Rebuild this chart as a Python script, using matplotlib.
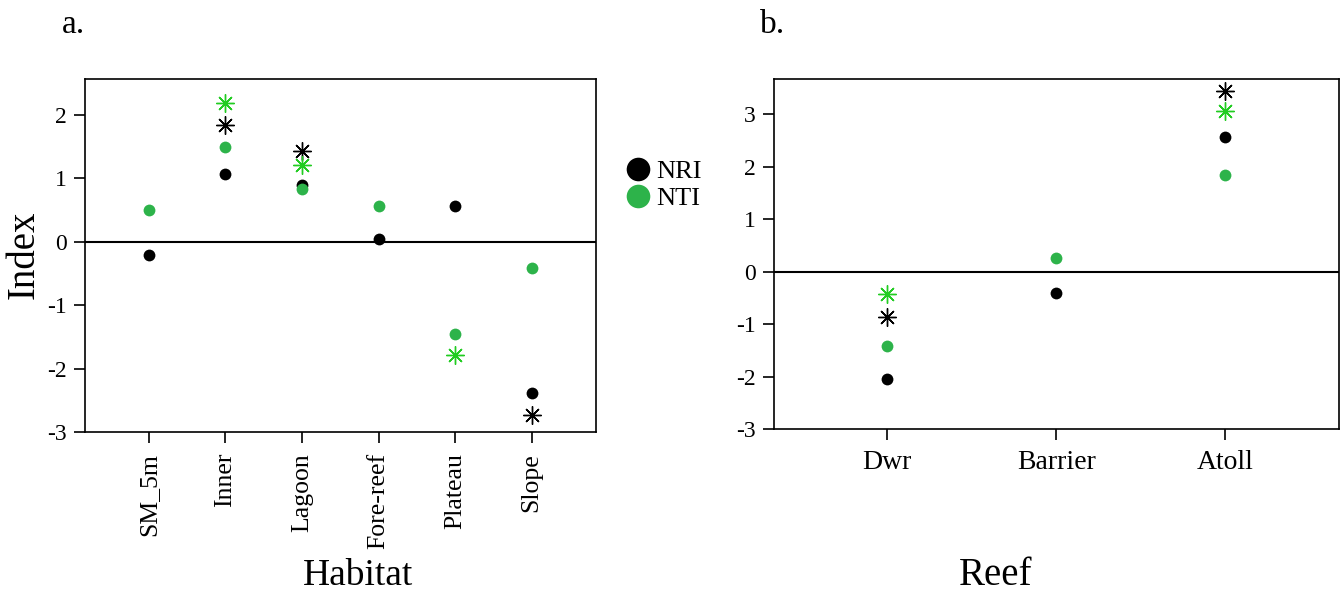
import numpy as np
import matplotlib
matplotlib.use("Agg")
from matplotlib import pyplot as plt
from matplotlib.lines import Line2D

plt.rcParams['font.family'] = ['Liberation Serif', 'DejaVu Serif']
plt.rcParams['axes.unicode_minus'] = False

# panel a: habitat
habitat = ["SM_5m", "Inner", "Lagoon", "Fore-reef", "Plateau", "Slope"]
nri_hab = [-0.20, 1.07, 0.90, 0.04, 0.56, -2.39]
nti_hab = [0.51, 1.49, 0.83, 0.56, -1.46, -0.41]
nri_hab_star = [np.nan, 1.84, 1.43, np.nan, np.nan, -2.73]
nti_hab_star = [np.nan, 2.19, 1.21, np.nan, -1.79, np.nan]

# panel b: reef
reef = ["Dwr", "Barrier", "Atoll"]
nri_reef = [-2.05, -0.41, 2.56]
nti_reef = [-1.41, 0.25, 1.84]
nri_reef_star = [-0.87, np.nan, 3.45]
nti_reef_star = [-0.43, np.nan, 3.06]

black = "black"
green_dot = "#2db34a"
green_star = "#22cc22"
star = (8, 2, 0)

fig = plt.figure(figsize=(13.4, 5.93), dpi=100)
ax1 = fig.add_axes([0.0631, 0.2715, 0.3817, 0.5953])
ax2 = fig.add_axes([0.5776, 0.2766, 0.4214, 0.5902])


def draw(ax, cats, nri, nti, nri_s, nti_s, xsize):
    x = np.arange(len(cats))
    ax.axhline(0, color="black", lw=1.5, zorder=1)
    ax.plot(x, nri, "o", color=black, ms=8.5, mec="none", zorder=3)
    ax.plot(x, nti, "o", color=green_dot, ms=8.5, mec="none", zorder=4)
    ax.plot(x, nri_s, ls="none", marker=star, color=black, ms=13, mew=1.0, zorder=3)
    ax.plot(x, nti_s, ls="none", marker=star, color=green_star, ms=13, mew=1.0, zorder=4)
    ax.set_xticks(x)
    ax.set_xticklabels(cats)
    for s in ax.spines.values():
        s.set_linewidth(1.2)
    ax.tick_params(direction="out", length=8, width=1.2, pad=5)
    ax.tick_params(axis="y", labelsize=17)
    ax.tick_params(axis="x", labelsize=xsize, pad=7)


draw(ax1, habitat, nri_hab, nti_hab, nri_hab_star, nti_hab_star, 18.5)
ax1.set_xlim(-0.84, 5.84)
ax1.set_ylim(-3, 2.57)
ax1.set_yticks([-3, -2, -1, 0, 1, 2])
plt.setp(ax1.get_xticklabels(), rotation=90)

draw(ax2, reef, nri_reef, nti_reef, nri_reef_star, nti_reef_star, 20)
ax2.set_xlim(-0.67, 2.67)
ax2.set_ylim(-3, 3.67)
ax2.set_yticks([-3, -2, -1, 0, 1, 2, 3])

fig.text(0.018, 0.57, "Index", rotation=90, fontsize=28, ha="center", va="center")
fig.text(0.267, 0.014, "Habitat", fontsize=27, ha="center", va="baseline")
fig.text(0.743, 0.014, "Reef", fontsize=28, ha="center", va="baseline")
fig.text(0.046, 1 - 33 / 593, "a.", fontsize=24, va="baseline")
fig.text(0.567, 1 - 33 / 593, "b.", fontsize=24, va="baseline")

handles = [Line2D([], [], ls="none", marker="o", ms=17, color=black, mec="none"),
           Line2D([], [], ls="none", marker="o", ms=17, color=green_dot, mec="none")]
fig.legend(handles, ["NRI", "NTI"], loc="center left", bbox_to_anchor=(0.466, 0.688),
           frameon=False, fontsize=19, handlelength=1.0, handletextpad=0.2,
           labelspacing=0.15, borderpad=0, borderaxespad=0)

fig.savefig("out.png", dpi=100)
